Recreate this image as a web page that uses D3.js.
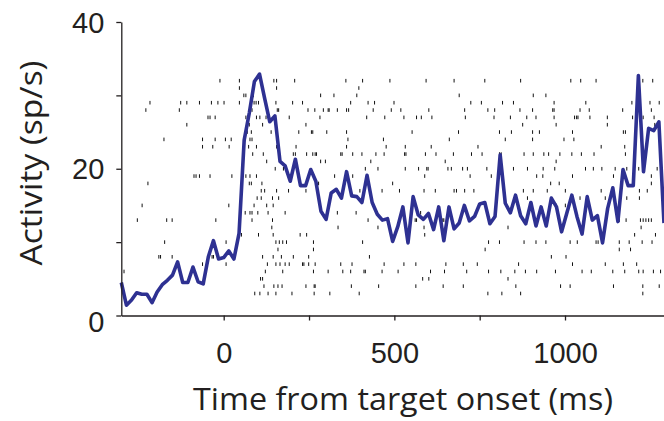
<!DOCTYPE html>
<html>
<head>
<meta charset="utf-8">
<script src="https://cdn.jsdelivr.net/npm/d3@7"></script>
<style>
  body { margin: 0; background: #fff; }
  svg { display: block; }
</style>
</head>
<body>
<svg id="chart"></svg>
<script>
// Chart size
const width = 664;
const height = 421;

// Firing rate (sp/s), one value per 15 ms bin starting at -300 ms
const rates = [
  4.5, 1.4, 2.1, 3.1, 2.9, 2.9, 1.75, 3.2, 4.2, 4.8,
  5.5, 7.3, 4.5, 4.5, 6.6, 4.6, 4.3, 8.0, 10.2, 7.7,
  7.9, 8.8, 7.7, 11.2, 23.9, 27.6, 31.9, 32.9, 29.6, 26.4,
  27.2, 21.0, 20.4, 18.3, 21.3, 17.7, 17.7, 19.9, 18.3, 14.2,
  13.1, 16.7, 17.2, 16.0, 19.6, 16.3, 16.2, 15.4, 19.1, 15.4,
  13.8, 13.0, 13.2, 10.1, 12.1, 14.8, 9.9, 16.2, 13.7, 13.1,
  13.9, 11.7, 14.8, 10.2, 14.8, 11.8, 12.6, 15.0, 12.9, 13.5,
  15.2, 15.4, 12.5, 13.5, 21.9, 15.3, 14.0, 16.4, 13.6, 12.5,
  15.4, 12.2, 14.8, 12.2, 16.0, 14.8, 11.4, 13.9, 16.4, 13.5,
  11.1, 16.2, 13.0, 13.6, 9.9, 14.6, 17.4, 12.8, 19.9, 17.7,
  17.7, 32.7, 19.6, 25.5, 25.2, 26.4, 12.6
];
const binTimes = d3.range(rates.length).map((i) => -300 + 15 * i);

// Spike times (ms) for each trial, bottom row first
const trials = [
  [91, 106, 130, 153, 200, 265, 311, 397, 774, 815, 870, 1228],
  [118, 147, 159, 171, 241, 265, 268, 374, 454, 563, 643, 702, 856, 987, 1015, 1142, 1228, 1276],
  [108, 114, 583, 601, 833],
  [-292, 122, 173, 263, 306, 349, 372, 411, 415, 464, 511, 606, 647, 712, 776, 812, 853, 884, 917, 972, 1050, 1077, 1140, 1175, 1216, 1229, 1259, 1280],
  [-62, 7, 128, 153, 165, 180, 192, 231, 235, 249, 268, 343, 376, 470, 528, 563, 651, 702, 743, 864, 1022, 1118, 1171, 1210],
  [-190, -185, -151, -34, -30, 114, 145, 169, 204, 249, 427, 960, 1003],
  [159, 263, 766, 1159, 1192],
  [-173, 7, 153, 163, 173, 184, 263, 407, 776, 808, 880, 915, 944, 1015, 1036, 1091, 1097, 1159, 1188, 1226, 1255],
  [52, 102, 145, 224, 243, 589, 1204, 1265],
  [141, 335, 452, 587, 833, 1223],
  [-253, -167, -151, -23, 83, 143, 423, 561, 565, 642, 645, 718, 1159, 1179, 1221, 1229, 1237, 1245, 1253],
  [63, 77, 83, 100, 130, 180, 333, 388, 577],
  [-239, 15, 89, 126, 145, 974, 1001],
  [98, 110, 143, 161, 890, 1044, 1118, 1181, 1218],
  [110, 120, 155, 190, 241, 399, 464, 515, 587, 620, 675, 682, 706, 733, 878, 907, 948, 1001, 1106, 1218, 1241],
  [-222, 75, 81, 112, 272, 278, 495, 958, 983, 1253],
  [-87, -81, -71, -40, 24, 65, 77, 96, 325, 378, 589, 722, 784, 917, 935, 1022, 1142, 1175, 1253],
  [151, 175, 216, 415, 452, 532, 571, 595, 599, 657, 667, 700, 714, 771, 849, 890, 936, 970, 1060, 1083, 1108, 1147, 1181, 1216, 1270, 1284],
  [126, 284, 298, 431, 649, 974],
  [85, 116, 204, 210, 243, 261, 268, 272, 343, 347, 378, 405, 446, 470, 530, 534, 591, 622, 673, 726, 757, 808, 813, 880, 907, 938, 952, 985, 1020, 1048, 1085, 1177],
  [-62, -32, 16, 73, 96, 155, 212, 360, 476, 532, 608, 745, 1106, 1175],
  [-175, -62, -25, 5, 22, 63, 77, 83, 364, 468, 661, 825, 905, 997, 1026],
  [69, 81, 139, 220, 257, 261, 302, 360, 552, 688, 808, 843, 905, 925, 1022, 1171, 1177],
  [-108, 75, 114, 241, 876, 974, 1124, 1263],
  [-46, -40, -25, 65, 73, 96, 106, 124, 192, 282, 419, 472, 528, 565, 579, 610, 708, 792, 840, 888, 915, 968, 1028, 1034, 1038, 1073, 1124, 1198, 1229, 1261],
  [-228, -130, 83, 157, 161, 247, 267, 292, 306, 309, 333, 360, 366, 438, 491, 519, 601, 706, 774, 794, 868, 905, 964, 968, 1044, 1071, 1169, 1253],
  [-216, -126, -108, -71, -36, -17, 1, 46, 89, 95, 102, 153, 202, 231, 372, 423, 442, 499, 724, 755, 817, 849, 968, 1061, 1196, 1249, 1276],
  [59, 65, 87, 284, 323, 390, 690, 907, 944],
  [46, 155, 396],
  [-11, 46, 147, 155, 208, 358, 407, 487, 593, 675, 765, 870, 1017, 1046, 1091, 1228, 1257]
];

// Axis ticks
const xTicks = [0, 250, 500, 750, 1000];
const xLabels = [0, 500, 1000];
const yTicks = [0, 10, 20, 30, 40];
const yLabels = [0, 20, 40];

// Scales
const xScale = d3.scaleLinear().domain([-300, 1300]).range([121.3, 667.4]);
const yScale = d3.scaleLinear().domain([0, 40]).range([315.5, 22]);

const svg = d3.select("#chart").attr("width", width).attr("height", height);

// Raster: one row per trial, first row sits at 3 sp/s on the y scale
const firstRow = 3;
const rows = svg.append("g").attr("class", "raster");
trials.forEach((spikes, i) => {
  const yc = yScale(firstRow + i);
  rows
    .selectAll(null)
    .data(spikes)
    .enter()
    .append("line")
    .attr("x1", (d) => xScale(d))
    .attr("x2", (d) => xScale(d))
    .attr("y1", yc - 1.8)
    .attr("y2", yc + 1.8)
    .attr("stroke", "#111")
    .attr("stroke-width", 1);
});

// PSTH line
const line = d3
  .line()
  .x((d, i) => xScale(binTimes[i]))
  .y((d) => yScale(d));

svg
  .append("path")
  .datum(rates)
  .attr("fill", "none")
  .attr("stroke", "#2e3192")
  .attr("stroke-width", 3.6)
  .attr("stroke-linejoin", "round")
  .attr("d", line);

// Axes
const xAxis = d3
  .axisBottom(xScale)
  .tickValues(xTicks)
  .tickSize(5)
  .tickSizeOuter(0)
  .tickPadding(22)
  .tickFormat((d) => (xLabels.includes(d) ? d : ""));

const yAxis = d3
  .axisLeft(yScale)
  .tickValues(yTicks)
  .tickSize(5)
  .tickSizeOuter(0)
  .tickPadding(12)
  .tickFormat((d) => (yLabels.includes(d) ? d : ""));

const gx = svg.append("g").attr("transform", "translate(0,315.5)").call(xAxis);
const gy = svg.append("g").attr("transform", "translate(121.3,0)").call(yAxis);

[gx, gy].forEach((g) => {
  g.select(".domain").attr("stroke", "#231f20").attr("stroke-width", 1.3);
  g.selectAll(".tick line").attr("stroke", "#231f20").attr("stroke-width", 1.3);
  g.selectAll(".tick text")
    .attr("fill", "#231f20")
    .style("font-family", "'Liberation Sans', Arial, sans-serif")
    .style("font-size", "29px");
});
gy.selectAll(".tick text").attr("dy", "0.35em");
gy.selectAll(".tick")
  .filter((d) => d === 0)
  .select("text")
  .attr("dy", "0.55em");

// Axis titles
svg
  .append("text")
  .attr("x", 403)
  .attr("y", 410)
  .attr("text-anchor", "middle")
  .attr("fill", "#231f20")
  .attr("textLength", 420)
  .attr("lengthAdjust", "spacingAndGlyphs")
  .style("font-family", "'Open Sans', sans-serif")
  .style("font-size", "31px")
  .text("Time from target onset (ms)");

svg
  .append("text")
  .attr("transform", "translate(42,163) rotate(-90)")
  .attr("text-anchor", "middle")
  .attr("fill", "#231f20")
  .attr("textLength", 205)
  .attr("lengthAdjust", "spacingAndGlyphs")
  .style("font-family", "'Open Sans', sans-serif")
  .style("font-size", "31px")
  .text("Activity (sp/s)");
</script>
</body>
</html>
